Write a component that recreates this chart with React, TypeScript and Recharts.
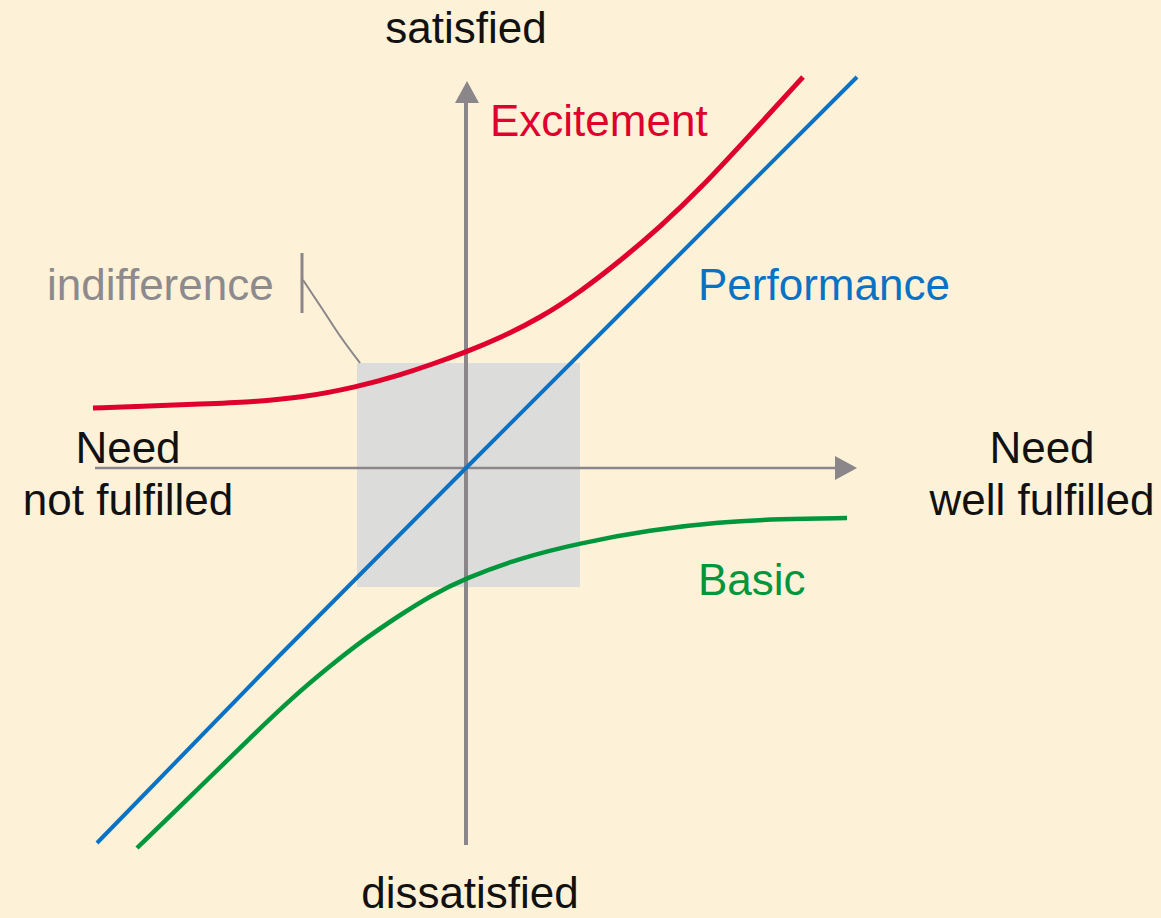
import React from "react";
import {
  ComposedChart,
  Line,
  Scatter,
  XAxis,
  YAxis,
  ReferenceArea,
  ReferenceLine,
} from "recharts";

// Kano model curves (origin = centre of the axes)
const performance = [
  { x: -3.69, y: -3.75 },
  { x: -1.86, y: -1.87 },
  { x: 0, y: 0 },
  { x: 1.95, y: 1.95 },
  { x: 3.91, y: 3.91 },
];

const excitement = [
  { x: -3.73, y: 0.6 },
  { x: -3.16, y: 0.62 },
  { x: -2.66, y: 0.64 },
  { x: -2.16, y: 0.66 },
  { x: -1.66, y: 0.7 },
  { x: -1.09, y: 0.81 },
  { x: -0.66, y: 0.93 },
  { x: -0.36, y: 1.03 },
  { x: 0, y: 1.16 },
  { x: 0.34, y: 1.3 },
  { x: 0.74, y: 1.5 },
  { x: 1.14, y: 1.76 },
  { x: 1.54, y: 2.07 },
  { x: 1.94, y: 2.41 },
  { x: 2.34, y: 2.79 },
  { x: 2.84, y: 3.33 },
  { x: 3.37, y: 3.91 },
];

const basic = [
  { x: -3.29, y: -3.8 },
  { x: -2.66, y: -3.19 },
  { x: -2.16, y: -2.7 },
  { x: -1.73, y: -2.29 },
  { x: -1.36, y: -1.98 },
  { x: -1.03, y: -1.72 },
  { x: -0.66, y: -1.47 },
  { x: -0.36, y: -1.28 },
  { x: 0, y: -1.1 },
  { x: 0.54, y: -0.9 },
  { x: 1.14, y: -0.75 },
  { x: 1.84, y: -0.62 },
  { x: 2.54, y: -0.54 },
  { x: 3.14, y: -0.51 },
  { x: 3.81, y: -0.5 },
];

// indifference zone and its callout
const indifferenceZone = { x1: -1.09, x2: 1.14, y1: -1.19, y2: 1.05 };
const indifferenceLeader = [
  { x: -1.63, y: 1.88 },
  { x: -1.43, y: 1.58 },
  { x: -1.28, y: 1.35 },
  { x: -1.06, y: 1.05 },
];

const xArrowTip = [{ x: 3.91, y: 0 }];
const yArrowTip = [{ x: 0.01, y: 3.87 }];

const AXIS = "#8a868a";
const FONT = "'Liberation Sans', Arial, Helvetica, sans-serif";

const txt = (
  x: number,
  y: number,
  s: string,
  fill: string,
  anchor: "start" | "middle" = "start"
) => (
  <text
    key={s}
    x={x}
    y={y}
    fill={fill}
    fontSize={44}
    fontFamily={FONT}
    textAnchor={anchor}
  >
    {s}
  </text>
);

export default function App() {
  return (
    <div
      style={{
        position: "absolute",
        left: 0,
        top: 0,
        width: 1161,
        height: 918,
        background: "#fdf1d8",
      }}
    >
      <ComposedChart
        width={1161}
        height={918}
        margin={{ top: 0, right: 0, bottom: 0, left: 0 }}
      >
        <XAxis
          type="number"
          dataKey="x"
          domain={[-4.66, 6.95]}
          allowDataOverflow
          hide
        />
        <YAxis
          type="number"
          dataKey="y"
          domain={[-4.5, 4.68]}
          allowDataOverflow
          hide
        />
        <ReferenceArea
          {...indifferenceZone}
          fill="#dcdcda"
          fillOpacity={1}
          stroke="none"
        />
        <ReferenceLine
          segment={[
            { x: -3.71, y: 0 },
            { x: 3.7, y: 0 },
          ]}
          stroke={AXIS}
          strokeWidth={2.5}
        />
        <ReferenceLine
          segment={[
            { x: 0, y: -3.77 },
            { x: 0, y: 3.68 },
          ]}
          stroke={AXIS}
          strokeWidth={4}
        />
        <Scatter
          data={xArrowTip}
          dataKey="y"
          isAnimationActive={false}
          shape={(p: any) => (
            <polygon
              points={`${p.cx},${p.cy} ${p.cx - 22},${p.cy - 12} ${p.cx - 22},${p.cy + 12}`}
              fill={AXIS}
            />
          )}
        />
        <Scatter
          data={yArrowTip}
          dataKey="y"
          isAnimationActive={false}
          shape={(p: any) => (
            <polygon
              points={`${p.cx},${p.cy} ${p.cx - 12},${p.cy + 22} ${p.cx + 12},${p.cy + 22}`}
              fill={AXIS}
            />
          )}
        />
        <Line
          data={indifferenceLeader}
          dataKey="y"
          type="monotone"
          stroke={AXIS}
          strokeWidth={2}
          dot={false}
          activeDot={false}
          isAnimationActive={false}
        />
        <ReferenceLine
          segment={[
            { x: -1.64, y: 2.15 },
            { x: -1.64, y: 1.55 },
          ]}
          stroke={AXIS}
          strokeWidth={3}
        />
        <Line
          data={performance}
          dataKey="y"
          type="linear"
          stroke="#0a72c4"
          strokeWidth={4}
          dot={false}
          activeDot={false}
          isAnimationActive={false}
        />
        <Line
          data={basic}
          dataKey="y"
          type="basis"
          stroke="#00963c"
          strokeWidth={4.5}
          dot={false}
          activeDot={false}
          isAnimationActive={false}
        />
        <Line
          data={excitement}
          dataKey="y"
          type="basis"
          stroke="#e0002d"
          strokeWidth={5}
          dot={false}
          activeDot={false}
          isAnimationActive={false}
        />
        <g>
          {txt(466, 43, "satisfied", "#111", "middle")}
          {txt(470, 908, "dissatisfied", "#111", "middle")}
          {txt(490, 136, "Excitement", "#e0002d")}
          {txt(698, 300, "Performance", "#0a72c4")}
          {txt(698, 595, "Basic", "#00963c")}
          {txt(47, 300, "indifference", "#8c8a8c")}
          {txt(128, 463, "Need", "#111", "middle")}
          {txt(128, 515, "not fulfilled", "#111", "middle")}
          {txt(1042, 463, "Need", "#111", "middle")}
          {txt(1042, 515, "well fulfilled", "#111", "middle")}
        </g>
      </ComposedChart>
    </div>
  );
}
